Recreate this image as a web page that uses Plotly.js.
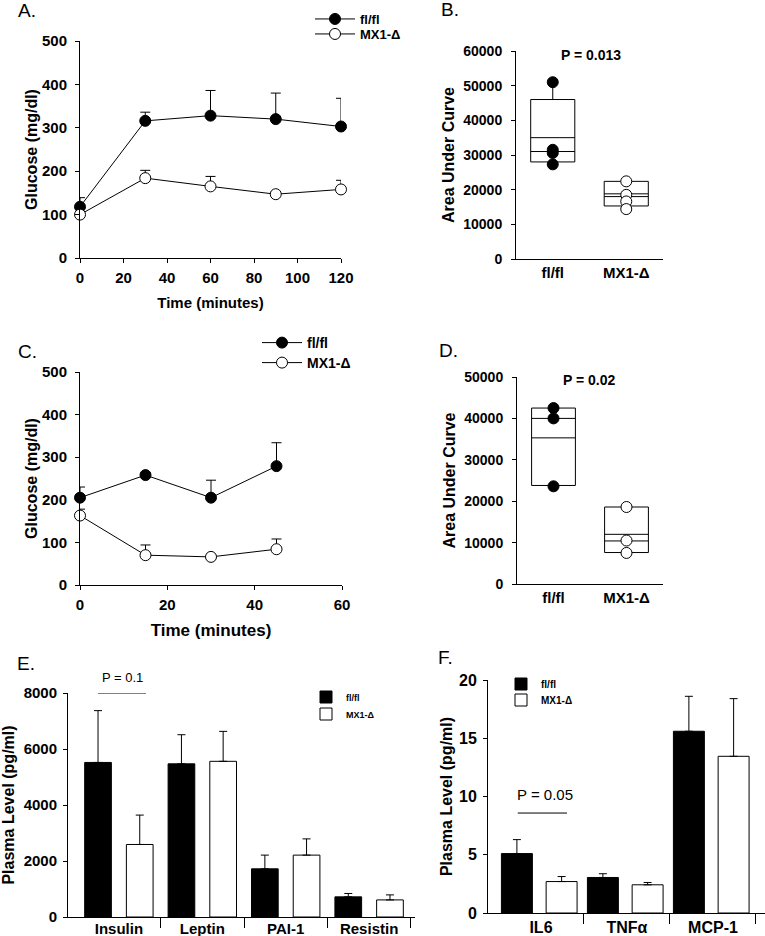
<!DOCTYPE html>
<html><head><meta charset="utf-8">
<script src="https://cdn.plot.ly/plotly-3.0.1.min.js"></script>
<style>body{margin:0;background:#fff}#chart{width:765px;height:936px}</style>
</head><body><div id="chart"></div>
<script>
// ---------- Panel A : glucose tolerance ----------
const timeA = [0, 30, 60, 90, 120];
const flflA = [118, 316, 328, 320, 303];
const flflA_err = [21, 20, 58, 60, 65];
const mx1A = [100, 184, 165, 147, 158];
const mx1A_err = [6, 18, 23, 5, 21];

// ---------- Panel C : insulin tolerance ----------
const timeC = [0, 15, 30, 45];
const flflC = [205, 258, 205, 279];
const flflC_err = [25, 6, 41, 55];
const mx1C = [163, 70, 66, 84];
const mx1C_err = [15, 24, 5, 24];

// ---------- Panels B & D : area under curve ----------
const groups = ['fl/fl', 'MX1-Δ'];
const aucB_flfl = [51000, 31500, 30600, 27300];
const aucB_mx1 = [22400, 18500, 16600, 14400];
const boxB_q1 = [28000, 15300];
const boxB_median = [31000, 18000];
const boxB_q3 = [46000, 22400];
const boxB_mean = [35000, 18800];
const boxB_low = [27300, 14400];
const boxB_high = [51000, 22400];

const aucD_flfl = [42500, 40000, 23600];
const aucD_mx1 = [18600, 10500, 7500];
const boxD_q1 = [23800, 7600];
const boxD_median = [40000, 10400];
const boxD_q3 = [42500, 18600];
const boxD_mean = [35300, 12000];
const boxD_low = [23600, 7500];
const boxD_high = [42500, 18600];

// ---------- Panel E : adipokines ----------
const catsE = ['Insulin', 'Leptin', 'PAI-1', 'Resistin'];
const flflE = [5520, 5470, 1720, 720];
const flflE_err = [1850, 1040, 490, 120];
const mx1E = [2590, 5560, 2210, 610];
const mx1E_err = [1050, 1070, 580, 180];

// ---------- Panel F : cytokines ----------
const catsF = ['IL6', 'TNFα', 'MCP-1'];
const flflF = [5.1, 3.05, 15.6];
const flflF_err = [1.2, 0.32, 3.0];
const mx1F = [2.7, 2.42, 13.45];
const mx1F_err = [0.43, 0.2, 4.95];

const seriesNames = ['fl/fl', 'MX1-Δ'];

// ---------- helpers ----------
const FONT = 'Arial, "Liberation Sans", sans-serif';
const W = 765, H = 936;
const dx = (a, b) => [a / W, b / W];
const dy = (top, bottom) => [1 - bottom / H, 1 - top / H];
const zeros = a => a.map(() => 0);
const idx = cats => cats.map((_, i) => i);
const boundaries = cats => cats.map((_, i) => i + 0.5);

function upErr(arr, w) {
  return {type: 'data', symmetric: false, array: arr, arrayminus: zeros(arr),
          color: 'black', thickness: 1, width: w};
}
function lineTrace(x, y, err, filled, xa, ya, name, legend) {
  return {type: 'scatter', mode: 'lines+markers', x: x, y: y, name: name,
    xaxis: xa, yaxis: ya, legend: legend, cliponaxis: false,
    line: {color: 'black', width: 1},
    marker: {symbol: 'circle', size: 11, color: filled ? 'black' : 'white',
             line: {color: 'black', width: 1}},
    error_y: upErr(err, 5)};
}
function boxTrace(q1, med, q3, lo, hi, xa, ya) {
  return {type: 'box', x: [0, 1], q1: q1, median: med, q3: q3,
    lowerfence: lo, upperfence: hi, width: 0.6, whiskerwidth: 0,
    fillcolor: 'white', line: {color: 'black', width: 1},
    boxpoints: false, showlegend: false, xaxis: xa, yaxis: ya, hoverinfo: 'skip'};
}
function meanTrace(means, xa, ya) {
  const xs = [], ys = [];
  means.forEach((m, i) => { xs.push(i - 0.3, i + 0.3, null); ys.push(m, m, null); });
  return {type: 'scatter', mode: 'lines', x: xs, y: ys, showlegend: false,
    line: {color: 'black', width: 1}, xaxis: xa, yaxis: ya, hoverinfo: 'skip'};
}
function pointTrace(vals, i, filled, xa, ya) {
  return {type: 'scatter', mode: 'markers', x: vals.map(() => i), y: vals,
    showlegend: false, cliponaxis: false, xaxis: xa, yaxis: ya,
    marker: {symbol: 'circle', size: 11, color: filled ? 'black' : 'white',
             line: {color: 'black', width: 1}}};
}
function barTrace(cats, vals, err, filled, width, offset, xa, ya, name, legend) {
  return {type: 'bar', x: idx(cats), y: vals, name: name, width: width, offset: offset,
    xaxis: xa, yaxis: ya, legend: legend,
    marker: {color: filled ? 'black' : 'white', line: {color: 'black', width: 1}},
    error_y: upErr(err, 4)};
}

const traces = [
  lineTrace(timeA, flflA, flflA_err, true, 'x', 'y', seriesNames[0], 'legend'),
  lineTrace(timeA, mx1A, mx1A_err, false, 'x', 'y', seriesNames[1], 'legend2'),
  boxTrace(boxB_q1, boxB_median, boxB_q3, boxB_low, boxB_high, 'x2', 'y2'),
  meanTrace(boxB_mean, 'x2', 'y2'),
  pointTrace(aucB_flfl, 0, true, 'x2', 'y2'),
  pointTrace(aucB_mx1, 1, false, 'x2', 'y2'),
  lineTrace(timeC, flflC, flflC_err, true, 'x3', 'y3', seriesNames[0], 'legend3'),
  lineTrace(timeC, mx1C, mx1C_err, false, 'x3', 'y3', seriesNames[1], 'legend4'),
  boxTrace(boxD_q1, boxD_median, boxD_q3, boxD_low, boxD_high, 'x4', 'y4'),
  meanTrace(boxD_mean, 'x4', 'y4'),
  pointTrace(aucD_flfl, 0, true, 'x4', 'y4'),
  pointTrace(aucD_mx1, 1, false, 'x4', 'y4'),
  barTrace(catsE, flflE, flflE_err, true, 0.32, -0.41, 'x5', 'y5', seriesNames[0], 'legend5'),
  barTrace(catsE, mx1E, mx1E_err, false, 0.32, 0.09, 'x5', 'y5', seriesNames[1], 'legend6'),
  barTrace(catsF, flflF, flflF_err, true, 0.36, -0.46, 'x6', 'y6', seriesNames[0], 'legend7'),
  barTrace(catsF, mx1F, mx1F_err, false, 0.36, 0.06, 'x6', 'y6', seriesNames[1], 'legend8')
];

function ax(extra, size) {
  return Object.assign({
    showline: true, linecolor: 'black', linewidth: 1, mirror: false,
    ticks: 'outside', ticklen: 4, tickcolor: 'black', tickwidth: 1,
    showgrid: false, zeroline: false, fixedrange: true,
    tickfont: {family: FONT, size: size || 15, color: 'black', weight: 'bold'}
  }, extra);
}
function ttl(text, size, standoff) {
  return {text: text, standoff: standoff, font: {family: FONT, size: size, color: 'black', weight: 'bold'}};
}
function leg(x, yc, size, iw) {
  return {x: x / W, y: 1 - yc / H, xanchor: 'left', yanchor: 'middle',
    bgcolor: 'rgba(0,0,0,0)', borderwidth: 0, tracegroupgap: 0, itemwidth: iw || 30,
    font: {family: FONT, size: size, color: 'black', weight: 'bold'}};
}
function lab(text, x, y) {
  return {text: text, xref: 'paper', yref: 'paper', x: x / W, y: 1 - y / H,
    xanchor: 'center', yanchor: 'middle', showarrow: false,
    font: {family: FONT, size: 19, color: 'black'}};
}
function catAxis(cats, dom, range, size, standoff, anchor) {
  return ax({domain: dom, range: range, tickvals: idx(cats), ticktext: cats,
    ticks: '', ticklabelstandoff: standoff, anchor: anchor,
    minor: {tickvals: boundaries(cats), ticks: 'outside', ticklen: 10,
            tickcolor: 'black', tickwidth: 1, showgrid: false}}, size);
}

const layout = {
  width: W, height: H, margin: {l: 0, r: 0, t: 0, b: 0},
  paper_bgcolor: 'white', plot_bgcolor: 'rgba(0,0,0,0)',
  showlegend: true, barmode: 'overlay',
  font: {family: FONT, color: 'black'},
  // A
  xaxis: ax({domain: dx(80, 341), range: [0, 120], dtick: 20, anchor: 'y',
             ticklabelstandoff: 2, title: ttl('Time (minutes)', 15, 12)}),
  yaxis: ax({domain: dy(41, 258), range: [0, 500], dtick: 100, anchor: 'x',
             ticklabelstandoff: 5, title: ttl('Glucose (mg/dl)', 16, 0)}),
  // B
  xaxis2: ax({domain: dx(516, 663), range: [-0.5, 1.5], tickvals: [0, 1], ticktext: groups,
              ticks: '', anchor: 'y2'}),
  yaxis2: ax({domain: dy(51, 259), range: [0, 60000], dtick: 10000, tickformat: 'd', anchor: 'x2',
              ticklabelstandoff: 6, title: ttl('Area Under Curve', 16, 4)}, 14),
  // C
  xaxis3: ax({domain: dx(80, 342), range: [0, 60], dtick: 20, anchor: 'y3',
              ticklabelstandoff: 2, title: ttl('Time (minutes)', 17, 12)}),
  yaxis3: ax({domain: dy(372, 585), range: [0, 500], dtick: 100, anchor: 'x3',
              ticklabelstandoff: 5, title: ttl('Glucose (mg/dl)', 16, 0)}),
  // D
  xaxis4: ax({domain: dx(517, 663), range: [-0.5, 1.5], tickvals: [0, 1], ticktext: groups,
              ticks: '', anchor: 'y4'}),
  yaxis4: ax({domain: dy(377, 584), range: [0, 50000], dtick: 10000, tickformat: 'd', anchor: 'x4',
              ticklabelstandoff: 6, title: ttl('Area Under Curve', 16, 4)}, 14),
  // E
  xaxis5: catAxis(catsE, dx(68, 415), [-0.61, 3.55], 15, -2, 'y5'),
  yaxis5: ax({domain: dy(693, 917), range: [0, 8000], dtick: 2000, anchor: 'x5',
              ticklabelstandoff: 3, title: ttl('Plasma Level (pg/ml)', 16, 8)}),
  // F
  xaxis6: catAxis(catsF, dx(488, 765), [-0.616, 2.605], 16, 0, 'y6'),
  yaxis6: ax({domain: dy(680, 913), range: [0, 20], dtick: 5, anchor: 'x6',
              ticklabelstandoff: 3, title: ttl('Plasma Level (pg/ml)', 16, 2)}, 16),
  legend: leg(310, 19, 13, 40),
  legend2: leg(310, 34, 13, 40),
  legend3: leg(257, 343, 14, 40),
  legend4: leg(257, 363, 14, 40),
  legend5: leg(306, 697, 9),
  legend6: leg(306, 714, 9),
  legend7: leg(501, 684, 10),
  legend8: leg(501, 700, 10),
  shapes: [
    {type: 'line', xref: 'x5', yref: 'y5', x0: -0.25, x1: 0.325, y0: 8000, y1: 8000,
     line: {color: 'black', width: 1}},
    {type: 'line', xref: 'x6', yref: 'y6', x0: -0.27, x1: 0.303, y0: 8.58, y1: 8.58,
     line: {color: 'black', width: 1}}
  ],
  annotations: [
    lab('A.', 27, 11), lab('B.', 450, 10), lab('C.', 27, 351),
    lab('D.', 448, 350), lab('E.', 26, 663), lab('F.', 445, 657),
    {text: 'P = 0.013', xref: 'x2', yref: 'y2', x: 0.52, y: 58850, showarrow: false,
     xanchor: 'center', yanchor: 'middle',
     font: {family: FONT, size: 14, color: 'black', weight: 'bold'}},
    {text: 'P = 0.02', xref: 'x4', yref: 'y4', x: 0.49, y: 49275, showarrow: false,
     xanchor: 'center', yanchor: 'middle',
     font: {family: FONT, size: 14, color: 'black', weight: 'bold'}},
    {text: 'P = 0.1', xref: 'x5', yref: 'paper', x: 0.04, y: 1 - 677 / H, showarrow: false,
     xanchor: 'center', yanchor: 'middle',
     font: {family: FONT, size: 13, color: 'black'}},
    {text: 'P = 0.05', xref: 'x6', yref: 'y6', x: 0.047, y: 10.13, showarrow: false,
     xanchor: 'center', yanchor: 'middle',
     font: {family: FONT, size: 15, color: 'black'}}
  ]
};

Plotly.newPlot('chart', traces, layout, {staticPlot: true, displayModeBar: false});
</script>
</body></html>
